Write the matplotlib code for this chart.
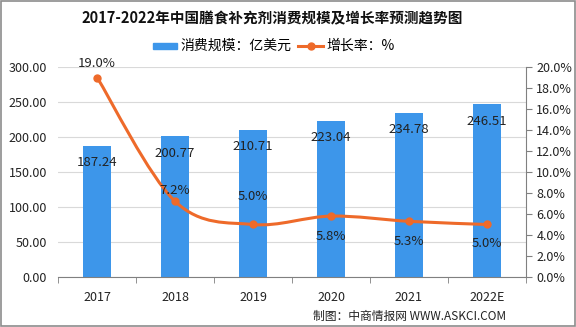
import matplotlib
matplotlib.use("Agg")
import matplotlib.pyplot as plt
import numpy as np
from matplotlib.path import Path
from matplotlib.patches import PathPatch, Rectangle

plt.rcParams['font.family'] = ['Noto Sans CJK SC', 'DejaVu Sans']

# ── data ──────────────────────────────────────────────────────────────────────
years = ["2017", "2018", "2019", "2020", "2021", "2022E"]
scale = [187.24, 200.77, 210.71, 223.04, 234.78, 246.51]   # 亿美元
growth = [19.0, 7.2, 5.0, 5.8, 5.3, 5.0]                     # %
# label offsets for growth labels (pixels, + above / - below)
growth_off = [14, 11, 28, -20, -20, -19]

BAR = "#3d96ea"
LINE = "#ee6a2a"
GRID = "#d9d9d9"
AXC = "#808080"

fig = plt.figure(figsize=(5.76, 3.27), dpi=100)
ax = fig.add_axes([0.101, 0.153, 0.812, 0.642])
ax2 = ax.twinx()

x = np.arange(len(years))
bars = ax.bar(x, scale, width=0.36, color=BAR, zorder=2)
ax.set_ylim(0, 300)
ax.set_xlim(-0.5, len(years) - 0.5)
ax.set_yticks(np.arange(0, 301, 50))
ax.set_yticklabels([f"{v:.2f}" for v in np.arange(0, 301, 50)], fontsize=9, color="#222222")
ax.yaxis.grid(True, color=GRID, linewidth=0.8, zorder=0)
ax.set_axisbelow(True)
ax.tick_params(axis="y", length=0, pad=8)
ax.set_xticks(x)
ax.set_xticklabels(years, fontsize=9, color="#222222")
ax.set_xticks(np.arange(-0.5, len(years), 1), minor=True)
ax.tick_params(axis="x", which="major", length=0, pad=10)
ax.tick_params(axis="x", which="minor", length=4, color=AXC)
for s in ["top", "left", "right"]:
    ax.spines[s].set_visible(False)
ax.spines["bottom"].set_color(AXC)

for b, v in zip(bars, scale):
    ax.annotate(f"{v:.2f}", (b.get_x() + b.get_width() / 2, v), xytext=(0, -17),
                textcoords="offset pixels", ha="center", va="center",
                fontsize=9.5, color="#222222", zorder=5)

# ── smoothed growth line ──────────────────────────────────────────────────────
ax2.set_ylim(0, 20)
ax2.set_yticks(np.arange(0, 21, 2))
ax2.set_yticklabels([f"{v:.1f}%" for v in np.arange(0, 21, 2)], fontsize=9, color="#222222")
ax2.tick_params(axis="y", length=4, color=AXC)
for s in ["top", "left", "bottom"]:
    ax2.spines[s].set_visible(False)
ax2.spines["right"].set_color(AXC)

pts = np.column_stack([x, growth]).astype(float)
verts = [pts[0]]
codes = [Path.MOVETO]
for i in range(len(pts) - 1):
    p0 = pts[i - 1] if i > 0 else pts[i]
    p1, p2 = pts[i], pts[i + 1]
    p3 = pts[i + 2] if i + 2 < len(pts) else pts[i + 1]
    c1 = p1 + (p2 - p0) / 6
    c2 = p2 - (p3 - p1) / 6
    verts += [c1, c2, p2]
    codes += [Path.CURVE4] * 3
ax2.add_patch(PathPatch(Path(verts, codes), facecolor="none", edgecolor=LINE,
                        linewidth=2.2, zorder=3))
ax2.plot(x, growth, "o", color=LINE, markersize=5, zorder=4)
for xi, g, off in zip(x, growth, growth_off):
    ax2.annotate(f"{g:.1f}%", (xi, g), xytext=(0, off), textcoords="offset pixels",
                 ha="center", va="center", fontsize=9.5, color="#222222", zorder=5)

# ── title, legend, footer ─────────────────────────────────────────────────────
fig.text(0.472, 0.945, "2017-2022年中国膳食补充剂消费规模及增长率预测趋势图",
         ha="center", va="center", fontsize=10.5, fontweight="bold", color="#111111")

fig.patches.append(Rectangle((153 / 576, 1 - 49 / 327), 24 / 576, 6 / 327,
                             transform=fig.transFigure, color=BAR))
fig.text(180 / 576, 1 - 46 / 327, "消费规模：亿美元", ha="left", va="center", fontsize=10)
fig.lines.append(plt.Line2D([298 / 576, 323 / 576], [1 - 46 / 327] * 2, transform=fig.transFigure,
                            color=LINE, linewidth=2.2))
fig.lines.append(plt.Line2D([310.5 / 576], [1 - 46 / 327], transform=fig.transFigure,
                            color=LINE, marker="o", markersize=5))
fig.text(326 / 576, 1 - 46 / 327, "增长率：%", ha="left", va="center", fontsize=10)

fig.text(506 / 576, 1 - 316 / 327, "制图：中商情报网 WWW.ASKCI.COM", ha="right", va="center",
         fontsize=8.5, color="#222222")

fig.patches.append(Rectangle((0.001, 0.002), 0.997, 0.995, transform=fig.transFigure,
                             fill=False, edgecolor="#8c8c8c", linewidth=1.2))

fig.savefig("out.png", dpi=100)
